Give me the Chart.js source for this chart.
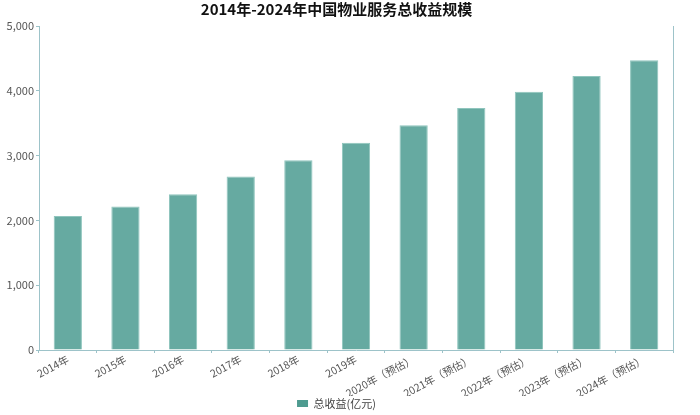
<!DOCTYPE html>
<html>
<head>
<meta charset="utf-8">
<script src="https://cdn.jsdelivr.net/npm/chart.js@4"></script>
<style>
  html, body { margin: 0; padding: 0; background: #fff; }
  #wrap { width: 700px; height: 415px; }
</style>
</head>
<body>
<div id="wrap"><canvas id="chart"></canvas></div>
<script>
// 数据
const categorias = ['2014年', '2015年', '2016年', '2017年', '2018年', '2019年',
  '2020年（预估）', '2021年（预估）', '2022年（预估）', '2023年（预估）', '2024年（预估）'];
const receitaTotal = [2069, 2214, 2404, 2676, 2928, 3198, 3467, 3733, 3986, 4227, 4473];
const serieNome = '总收益(亿元)';
const titulo = '2014年-2024年中国物业服务总收益规模';

const fonte = '"Noto Sans CJK SC", "Noto Sans", sans-serif';
const corBarra = '#66aaa1';
const corEixo = '#9dc3c9';

const ctx = document.getElementById('chart').getContext('2d');
new Chart(ctx, {
    type: 'bar',
    data: {
        labels: categorias,
        datasets: [{
            label: serieNome,
            data: receitaTotal,
            backgroundColor: corBarra,
            borderColor: '#8fc5bd',
            borderWidth: 1,
            categoryPercentage: 0.98,
            barPercentage: 0.5
        }]
    },
    options: {
        responsive: true,
        maintainAspectRatio: false,
        animation: false,
        layout: { padding: { left: 0, right: 27, top: 0, bottom: -4 } },
        plugins: {
            title: {
                display: true,
                text: titulo,
                color: '#111',
                font: { family: fonte, size: 15, weight: 'bold' },
                padding: { top: 0, bottom: 8 }
            },
            legend: {
                position: 'bottom',
                labels: {
                    color: '#444',
                    font: { family: fonte, size: 11 },
                    boxWidth: 11,
                    boxHeight: 7,
                    padding: 2,
                    generateLabels: function (chart) {
                        return [{
                            text: serieNome,
                            fillStyle: '#4e9b90',
                            strokeStyle: '#4e9b90',
                            lineWidth: 0,
                            fontColor: '#444',
                            datasetIndex: 0
                        }];
                    }
                }
            },
            tooltip: { enabled: false }
        },
        scales: {
            x: {
                grid: {
                    display: true,
                    offset: true,
                    drawOnChartArea: false,
                    tickLength: 3,
                    color: corEixo
                },
                border: { color: corEixo, width: 1 },
                ticks: {
                    color: '#555',
                    font: { family: fonte, size: 10.5 },
                    maxRotation: 28,
                    minRotation: 28,
                    padding: 0,
                    autoSkip: false
                },
                afterFit: scale => { scale.height = 46; }
            },
            y: {
                min: 0,
                max: 5000,
                grid: {
                    display: true,
                    drawOnChartArea: false,
                    tickLength: 3,
                    color: corEixo
                },
                border: { color: corEixo, width: 1 },
                ticks: {
                    stepSize: 1000,
                    color: '#555',
                    font: { family: fonte, size: 11 },
                    padding: 2,
                    callback: v => v.toLocaleString('en-US')
                },
                afterFit: scale => { scale.width = 39; }
            },
            y2: {
                position: 'right',
                min: 0,
                max: 5000,
                grid: { display: false },
                border: { color: corEixo, width: 1 },
                ticks: { display: false },
                afterFit: scale => { scale.width = 0; }
            }
        }
    }
});
</script>
</body>
</html>
